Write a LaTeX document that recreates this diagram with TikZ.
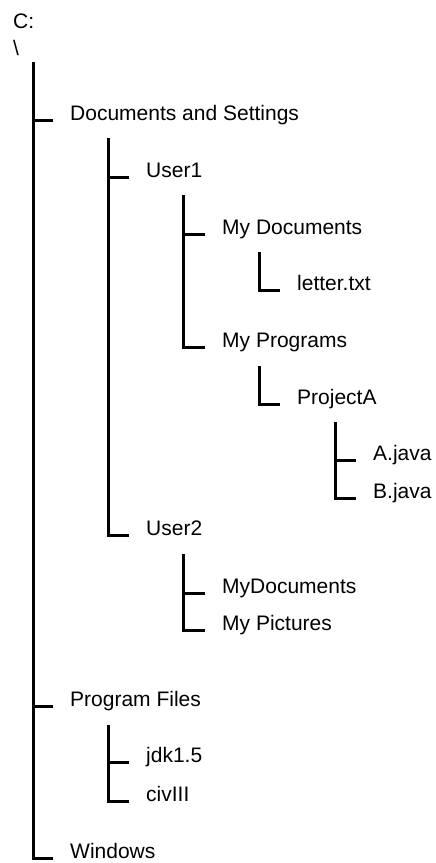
\documentclass[tikz,border=0pt]{standalone}
\usepackage{fontspec}
\setmainfont{Liberation Sans}
\begin{document}
\begin{tikzpicture}[x=1pt,y=-1pt,
  lbl/.style={anchor=base west,inner sep=0pt,font=\fontsize{21}{25}\selectfont},
  tree/.style={line width=3pt,line join=miter,line cap=rect}]
\useasboundingbox (0,0) rectangle (436,863);
\node[lbl] (c) at (13,28) {C:};
\node[lbl] (bs) at (13,55) {\textbackslash};
\node[lbl] (das) at (70,120) {Documents and Settings};
\node[lbl] (u1) at (146,177) {User1};
\node[lbl] (md) at (222,234) {My Documents};
\node[lbl] (let) at (297,290) {letter.txt};
\node[lbl] (mp) at (222,347) {My Programs};
\node[lbl] (pa) at (297,404) {ProjectA};
\node[lbl] (aj) at (373,460) {A.java};
\node[lbl] (bj) at (373,498) {B.java};
\node[lbl] (u2) at (146,535) {User2};
\node[lbl] (md2) at (222,593) {MyDocuments};
\node[lbl] (mpic) at (222,630) {My Pictures};
\node[lbl] (pf) at (70,706) {Program Files};
\node[lbl] (jdk) at (146,762) {jdk1.5};
\node[lbl] (civ) at (146,801) {civIII};
\node[lbl] (win) at (70,858) {Windows};
% vertical tops
\coordinate (t0) at (33,63);
\coordinate (t1) at (108,139);
\coordinate (t2) at (183,196);
\coordinate (t3) at (259,253);
\coordinate (t4) at (259,367);
\coordinate (t5) at (335,423);
\coordinate (t6) at (183,555);
\coordinate (t7) at (108,726);
\draw[tree] (t0) |- ([xshift=-19pt]win.base west);
\draw[tree] (t0 |- das.base) -- ([xshift=-19pt]das.base west);
\draw[tree] (t0 |- pf.base) -- ([xshift=-19pt]pf.base west);
\draw[tree] (t1) |- ([xshift=-19pt]u2.base west);
\draw[tree] (t1 |- u1.base) -- ([xshift=-19pt]u1.base west);
\draw[tree] (t2) |- ([xshift=-19pt]mp.base west);
\draw[tree] (t2 |- md.base) -- ([xshift=-19pt]md.base west);
\draw[tree] (t3) |- ([xshift=-19pt]let.base west);
\draw[tree] (t4) |- ([xshift=-19pt]pa.base west);
\draw[tree] (t5) |- ([xshift=-19pt]bj.base west);
\draw[tree] (t5 |- aj.base) -- ([xshift=-19pt]aj.base west);
\draw[tree] (t6) |- ([xshift=-19pt]mpic.base west);
\draw[tree] (t6 |- md2.base) -- ([xshift=-19pt]md2.base west);
\draw[tree] (t7) |- ([xshift=-19pt]civ.base west);
\draw[tree] (t7 |- jdk.base) -- ([xshift=-19pt]jdk.base west);
\end{tikzpicture}
\end{document}
